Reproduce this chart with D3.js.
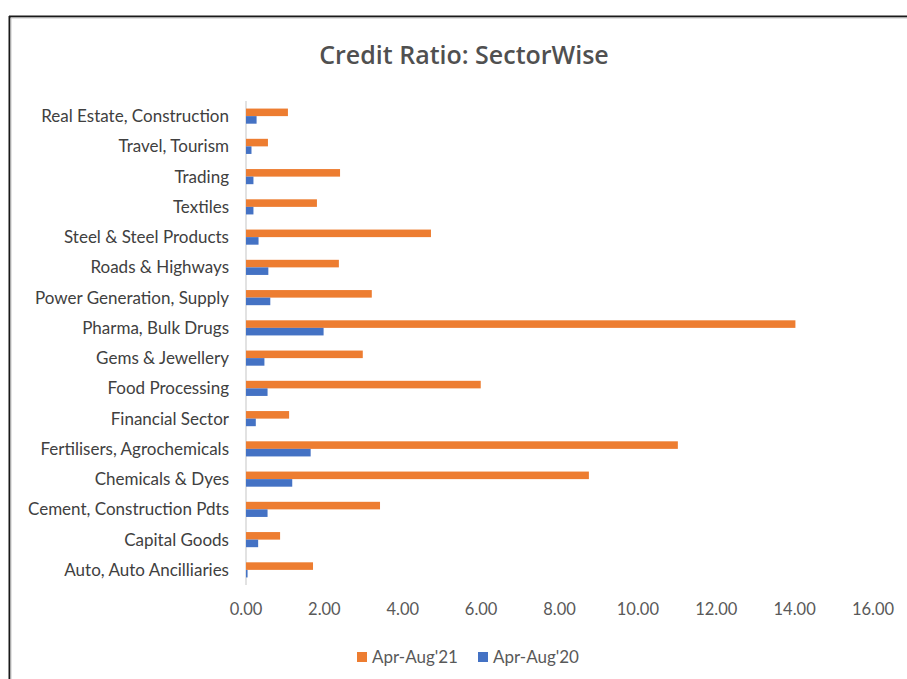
<!DOCTYPE html>
<html>
<head>
<meta charset="utf-8">
<script src="https://cdn.jsdelivr.net/npm/d3@7"></script>
<style>
  body { margin: 0; background: #fff; }
  svg { display: block; }
</style>
</head>
<body>
<svg id="chart" width="907" height="679"></svg>
<script>
// sectors, top to bottom as drawn
const sectors = [
    "Real Estate, Construction",
    "Travel, Tourism",
    "Trading",
    "Textiles",
    "Steel & Steel Products",
    "Roads & Highways",
    "Power Generation, Supply",
    "Pharma, Bulk Drugs",
    "Gems & Jewellery",
    "Food Processing",
    "Financial Sector",
    "Fertilisers, Agrochemicals",
    "Chemicals & Dyes",
    "Cement, Construction Pdts",
    "Capital Goods",
    "Auto, Auto Ancilliaries"
];
const apr21 = [1.07, 0.56, 2.40, 1.81, 4.72, 2.37, 3.21, 14.02, 2.98, 5.99, 1.10, 11.02, 8.75, 3.42, 0.87, 1.71];
const apr20 = [0.27, 0.14, 0.19, 0.19, 0.32, 0.57, 0.62, 1.98, 0.47, 0.55, 0.25, 1.65, 1.18, 0.55, 0.31, 0.04];
const seriesNames = ["Apr-Aug'21", "Apr-Aug'20"];
const seriesColors = ["#ed7d31", "#4472c4"];
const xTicks = [0, 2, 4, 6, 8, 10, 12, 14, 16];

const svg = d3.select("#chart");

// outer frame (cropped screenshot border)
svg.append("line").attr("x1", 9).attr("y1", 16.5).attr("x2", 907).attr("y2", 16.5)
    .attr("stroke", "#1a1a1a").attr("stroke-width", 2);
svg.append("line").attr("x1", 10).attr("y1", 18).attr("x2", 907).attr("y2", 18)
    .attr("stroke", "#c8c8c8").attr("stroke-width", 1);
svg.append("line").attr("x1", 9.5).attr("y1", 16).attr("x2", 9.5).attr("y2", 679)
    .attr("stroke", "#1a1a1a").attr("stroke-width", 2);
svg.append("line").attr("x1", 11).attr("y1", 18).attr("x2", 11).attr("y2", 679)
    .attr("stroke", "#c8c8c8").attr("stroke-width", 1);

svg.append("text")
    .attr("x", 464).attr("y", 64)
    .attr("text-anchor", "middle")
    .attr("font-family", "Open Sans")
    .attr("font-weight", 600)
    .attr("font-size", 25)
    .attr("fill", "#505050")
    .text("Credit Ratio: SectorWise");

const x = d3.scaleLinear().domain([0, 16]).range([246, 873]);
const y = d3.scaleBand().domain(sectors).range([101, 585]).paddingInner(0.5).paddingOuter(0.25);
const sub = d3.scaleBand().domain(seriesNames).range([0, y.bandwidth()]);

// category axis line
svg.append("line")
    .attr("x1", x(0)).attr("x2", x(0))
    .attr("y1", 101).attr("y2", 585)
    .attr("stroke", "#d9d9d9").attr("stroke-width", 1.5);

// category labels
svg.append("g").selectAll("text")
    .data(sectors)
    .join("text")
    .attr("x", 229)
    .attr("y", d => y(d) + y.bandwidth() / 2)
    .attr("dy", "0.35em")
    .attr("text-anchor", "end")
    .attr("font-family", "Lato")
    .attr("font-size", 17)
    .attr("fill", "#404040")
    .text(d => d);

// value axis tick labels
svg.append("g").selectAll("text")
    .data(xTicks)
    .join("text")
    .attr("x", d => x(d))
    .attr("y", 615)
    .attr("text-anchor", "middle")
    .attr("font-family", "Lato")
    .attr("font-size", 16.5)
    .attr("fill", "#595959")
    .text(d => d.toFixed(2));

// bars
const bars = svg.append("g");
[apr21, apr20].forEach((vals, i) => {
    bars.append("g").selectAll("rect")
        .data(sectors)
        .join("rect")
        .attr("x", x(0))
        .attr("y", d => y(d) + sub(seriesNames[i]))
        .attr("width", (d, j) => x(vals[j]) - x(0))
        .attr("height", sub.bandwidth())
        .attr("fill", seriesColors[i]);
});

// legend
const legendX = [357, 478];
seriesNames.forEach((name, i) => {
    const g = svg.append("g").attr("transform", `translate(${legendX[i]},657)`);
    g.append("rect").attr("x", 0).attr("y", -5).attr("width", 10).attr("height", 10)
        .attr("fill", seriesColors[i]);
    g.append("text").attr("x", 15).attr("y", 0).attr("dy", "0.35em")
        .attr("font-family", "Lato").attr("font-size", 17).attr("fill", "#595959")
        .text(name);
});
</script>
</body>
</html>
